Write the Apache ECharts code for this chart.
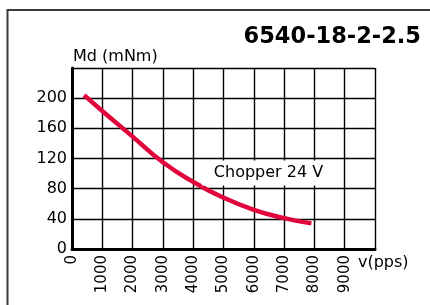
<!DOCTYPE html>
<html>
<head>
<meta charset="utf-8">
<script src="https://cdn.jsdelivr.net/npm/echarts@6/dist/echarts.min.js"></script>
<style>html,body{margin:0;padding:0;background:#fff;}#c{width:430px;height:305px;}</style>
</head>
<body>
<div id="c"></div>
<script>
const speedPps = [400, 1000, 2000, 3000, 4000, 5000, 6000, 7000, 7900];
const torqueMNm = [204, 183, 149, 115, 89, 68, 52, 41, 34];
const xTicks = [0, 1000, 2000, 3000, 4000, 5000, 6000, 7000, 8000, 9000];
const yTicks = [0, 40, 80, 120, 160, 200];
const titleText = '6540-18-2-2.5';
const seriesLabel = 'Chopper 24 V';

const chart = echarts.init(document.getElementById('c'), null, {renderer: 'canvas'});
const F = 'DejaVu Sans';
chart.setOption({
  animation: false,
  backgroundColor: '#fff',
  grid: {left: 72, top: 68, right: 55, bottom: 56},
  xAxis: {
    type: 'value', min: 0, max: 10000, interval: 1000,
    axisLine: {show: true, lineStyle: {color: '#000', width: 3}},
    axisTick: {show: false},
    splitLine: {show: true, lineStyle: {color: '#000', width: 1.4}},
    axisLabel: {
      rotate: 90, margin: 6, color: '#000', fontFamily: F, fontSize: 15,
      formatter: v => xTicks.includes(v) ? String(v) : ''
    }
  },
  yAxis: {
    type: 'value', min: 0, max: 240, interval: 40,
    axisLine: {show: true, lineStyle: {color: '#000', width: 3}},
    axisTick: {show: false},
    splitLine: {show: true, lineStyle: {color: '#000', width: 1.4}},
    axisLabel: {
      margin: 5, color: '#000', fontFamily: F, fontSize: 16,
      formatter: v => yTicks.includes(v) ? String(v) : ''
    }
  },
  series: [{
    type: 'line', smooth: 0.5, symbol: 'none',
    data: speedPps.map((x, i) => [x, torqueMNm[i]]),
    lineStyle: {color: '#e0063c', width: 4.5, cap: 'butt'}
  }],
  graphic: [
    {type: 'rect', z: -10, shape: {x: 7.5, y: 10, width: 600, height: 400},
     style: {fill: 'none', stroke: '#3a3a3a', lineWidth: 2}},
    {type: 'text', x: 421, y: 37, z: 10,
     style: {text: titleText, font: 'bold 22.5px "DejaVu Sans"', fill: '#000', textAlign: 'right', textVerticalAlign: 'middle'}},
    {type: 'text', x: 73, y: 57, z: 10,
     style: {text: 'Md (mNm)', font: '16px "DejaVu Sans"', fill: '#000', textAlign: 'left', textVerticalAlign: 'middle'}},
    {type: 'text', x: 358, y: 263, z: 10,
     style: {text: 'v(pps)', font: '16px "DejaVu Sans"', fill: '#000', textAlign: 'left', textVerticalAlign: 'middle'}},
    {type: 'text', x: 268, y: 173, z: 10,
     style: {text: seriesLabel, font: '16px "DejaVu Sans"', fill: '#000', textAlign: 'center', textVerticalAlign: 'middle',
             backgroundColor: '#fff', padding: [5, 11, 4, 12]}}
  ]
});
</script>
</body>
</html>
